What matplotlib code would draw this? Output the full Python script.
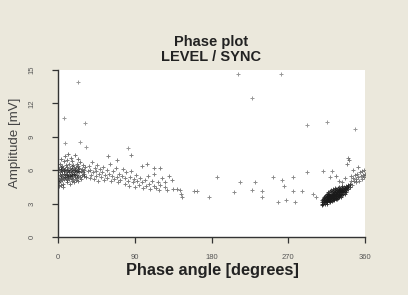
import matplotlib
matplotlib.use("Agg")
import matplotlib.pyplot as plt

# ---- data ----
left_cluster = [
    (1,5.2),(1,6.1),(1,4.9),(2,5.8),(2,6.6),(2,5.0),(3,5.5),(3,6.3),(3,4.7),(4,6.0),(4,5.3),(4,7.0),
    (5,5.7),(5,6.4),(5,5.1),(6,6.2),(6,5.4),(6,4.8),(7,5.9),(7,6.8),(7,5.2),(8,5.6),(8,6.1),(8,7.3),
    (9,5.3),(9,6.5),(9,5.8),(10,6.0),(10,5.1),(10,6.9),(11,5.7),(11,6.3),(11,4.9),(12,5.4),(12,6.0),
    (12,7.5),(13,5.9),(13,6.6),(13,5.2),(14,5.6),(14,6.2),(14,4.8),(15,6.0),(15,5.3),(15,7.1),(16,5.8),
    (16,6.4),(16,5.0),(17,5.5),(17,6.1),(17,6.8),(18,5.9),(18,5.2),(18,6.5),(19,5.7),(19,6.2),(19,4.9),
    (20,5.4),(20,6.0),(20,7.4),(21,5.8),(21,6.3),(21,5.1),(22,5.6),(22,6.6),(22,5.3),(23,5.9),(23,6.1),
    (23,7.0),(24,5.5),(24,6.4),(24,5.0),(25,5.8),(25,6.2),(26,5.4),(26,6.7),(27,5.9),(27,5.2),(28,6.1),
    (28,5.6),(29,5.8),(29,6.5),(30,5.5),(30,6.0),(31,5.7),(32,6.3),(33,5.4),
    (2.5,5.6),(4.5,5.9),(6.5,5.7),(8.5,5.4),(10.5,5.6),(12.5,5.8),(14.5,5.5),(16.5,5.6),(18.5,5.7),
    (20.5,5.6),(22.5,5.9),(3.5,6.1),(7.5,6.0),(11.5,5.5),(15.5,5.7),(19.5,6.0),(1.5,4.6),(5.5,4.5),
]
trail = [
    (35,5.9),(36,6.4),(37,5.3),(38,6.0),(39,5.6),(40,6.7),(41,5.8),(42,5.2),(43,6.2),(44,5.5),(45,5.9),
    (46,6.5),(47,5.0),(48,5.7),(49,6.1),(50,5.4),(52,5.8),(53,6.3),(54,5.1),(55,5.6),(57,6.0),(58,5.3),
    (60,5.7),(61,6.6),(62,5.0),(63,5.5),(65,5.9),(66,5.2),(68,6.2),(69,5.4),(70,4.9),(72,5.7),(73,5.1),
    (75,5.5),(76,6.1),(78,4.8),(79,5.3),(80,5.8),(82,5.0),(83,4.6),(85,5.4),(86,5.9),(88,4.9),(89,5.2),
    (90,4.5),(92,5.6),(93,5.0),(95,4.7),(96,5.3),(98,6.4),(99,4.9),(100,4.4),(102,5.1),(103,4.6),
    (105,5.5),(107,4.8),(108,4.3),(110,5.0),(112,4.6),(113,5.7),(115,4.4),(117,4.9),(118,4.2),(120,6.2),
    (120,4.7),(122,5.3),(125,4.9),(125,4.5),(128,4.2),(130,5.5),(134,5.1),(135,4.3),(139,4.3),(143,4.2),
    (144,3.9),(145,3.6),(86,7.4),(59,7.3),(69,6.9),(104,6.6),(112,6.2),
]
sparse = [
    (159,4.1),(163,4.1),(177,3.6),(186,5.4),(206,4.0),(214,4.9),(228,4.2),(231,4.9),(239,4.1),(239,3.6),
    (252,5.4),(258,3.1),(263,5.1),(265,4.6),(267,3.3),(276,5.4),(276,4.1),(278,3.1),(286,4.1),(291.5,5.8),
    (298.5,3.9),(302,3.6),(311,5.9),(321,5.9),(319,5.4),
]
right_cluster = [
    (309,3.0),(309.5,3.3),(310,3.1),(310.5,3.4),(310,2.9),(311,3.2),(311.5,3.5),(311,3.0),(312,3.3),(312.5,3.1),
    (312,3.6),(313,3.0),(313.5,3.4),(313,3.7),(313,3.2),(314,3.3),(314.5,3.5),(314,3.1),(314,3.8),(315,3.2),
    (315.5,3.6),(315,3.4),(315.5,3.0),(315,3.9),(316,3.3),(316.5,3.5),(316,3.7),(316,3.1),(316.5,3.9),(317,3.4),
    (317.5,3.2),(317,3.6),(317.5,3.8),(317,4.0),(318,3.3),(318.5,3.5),(318,3.7),(318.5,3.1),(318,3.9),(319,3.4),
    (319.5,3.6),(319,3.8),(319,3.2),(319.5,4.1),(320,3.5),(320.5,3.3),(320,3.7),(320.5,3.9),(320,4.2),(321,3.4),
    (321.5,3.6),(321,3.8),(321.5,4.0),(321,3.2),(322,3.5),(322.5,3.7),(322,3.9),(322.5,4.1),(322,3.3),(323,3.6),
    (323.5,3.4),(323,3.8),(323.5,4.0),(323,4.3),(324,3.5),(324.5,3.7),(324,3.9),(324.5,4.2),(324,3.3),(325,3.6),
    (325.5,3.8),(325,4.0),(325.5,3.4),(325,4.4),(326,3.7),(326.5,3.5),(326,3.9),(326.5,4.1),(326,4.3),(327,3.6),
    (327.5,3.8),(327,4.0),(327.5,4.2),(327,3.4),(328,3.7),(328.5,3.9),(328,4.1),(328.5,3.5),(328,4.4),(329,3.8),
    (329.5,3.6),(329,4.0),(329.5,4.2),(329,4.5),(330,3.7),(330.5,3.9),(330,4.1),(330.5,4.3),(331,3.8),(331.5,4.0),
    (331,4.2),(331.5,3.6),(332,3.9),(332.5,4.1),(332,4.3),(332.5,4.6),(333,4.0),(333.5,3.8),(333,4.2),(333.5,4.4),
    (334,4.1),(334.5,3.9),(334,4.3),(335,4.0),(335.5,4.2),(335,4.5),(336,4.1),(336.5,4.4),(336,3.9),(337,4.3),
    (337.5,4.6),(338,4.2),(338.5,4.5),(338,4.0),(339,4.4),(339.5,4.7),(340,4.3),(340.5,4.6),(342,4.5),(342.5,4.8),
    (318,3.45),(320,3.55),(322,3.65),(324,3.75),(326,3.85),(328,3.95),(330,4.05),(319,3.65),(321,3.75),
    (323,3.85),(325,3.95),(327,4.05),(329,4.15),(317,3.35),(316,3.25),(314,3.2),(312,3.15),(331,4.15),
]
right_tail = [
    (343,5.0),(345,4.7),(346,5.3),(347,5.0),(348,5.6),(349,4.9),(350,5.2),(351,5.7),(352,5.4),(353,5.0),
    (354,5.8),(355,5.5),(356,5.2),(357,5.9),(358,5.6),(359,6.0),(359,5.4),(360,5.7),(352,6.3),(346,6.0),
    (338.5,6.6),(340,7.1),(341,6.9),(344,5.5),(336,5.3),(330,5.0),(326,5.5),(333,4.9),
]
outliers = [
    (211,14.6),(261,14.6),(228,12.5),(291.5,10.1),(316,10.3),(348,9.7),
    (23,13.9),(7,10.7),(32,10.2),(82,8.0),(8,8.4),(26,8.5),(33,8.1),
]
x_ticks = [0, 90, 180, 270, 360]
y_ticks = [0, 3, 6, 9, 12, 15]

bg = '#ebe8dc'
fig = plt.figure(figsize=(4.08, 2.95), dpi=100, facecolor=bg)
ax = fig.add_axes([58/408, 1-237/295, (365-58)/408, (237-70)/295])
ax.set_facecolor('white')

groups = [(left_cluster, 0.6), (trail, 0.55), (sparse, 0.5), (right_cluster, 0.8),
          (right_tail, 0.55), (outliers, 0.45)]
for grp, a in groups:
    xs = [p[0] for p in grp]
    ys = [p[1] for p in grp]
    ax.plot(xs, ys, linestyle='none', marker='+', markersize=2.2, markeredgewidth=0.7,
            color='#1a1a1a', alpha=a)

ax.set_xlim(0, 360)
ax.set_ylim(0, 15)
ax.set_xticks(x_ticks)
ax.set_yticks(y_ticks)
for s in ('top', 'right'):
    ax.spines[s].set_visible(False)
for s in ('left', 'bottom'):
    ax.spines[s].set_color('#333333')
    ax.spines[s].set_linewidth(1.0)
ax.tick_params(axis='both', direction='out', length=4, width=0.9, colors='#333333',
               labelsize=5.5, labelcolor='#555555')
ax.tick_params(axis='x', pad=8)
ax.tick_params(axis='y', pad=12)
for lbl in ax.get_yticklabels():
    lbl.set_rotation(90)
    lbl.set_va('center')

fam = ['Liberation Sans', 'DejaVu Sans']
for lbl in ax.get_xticklabels() + ax.get_yticklabels():
    lbl.set_family(fam)

fig.text(211/408, 1-42/295, 'Phase plot', ha='center', va='center', fontsize=10.5,
         fontweight='bold', family=fam, color='#222222')
fig.text(211/408, 1-57/295, 'LEVEL / SYNC', ha='center', va='center', fontsize=10.5,
         fontweight='bold', family=fam, color='#222222')
fig.text(212/408, 1-271/295, 'Phase angle [degrees]', ha='center', va='center', fontsize=11.8,
         fontweight='bold', family=fam, color='#222222')
fig.text(15/408, 1-143/295, 'Amplitude [mV]', ha='center', va='center', fontsize=9.6,
         rotation=90, family=fam, color='#444444')

fig.savefig('out.png', dpi=100, facecolor=bg)
